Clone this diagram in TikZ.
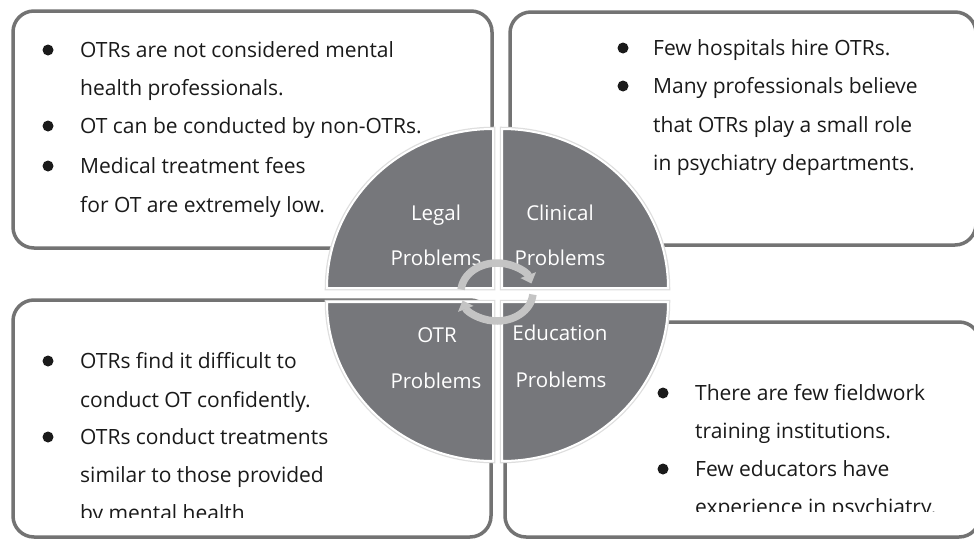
\documentclass[tikz,border=0pt]{standalone}
\usepackage{fontspec}
\setmainfont{Open Sans}
\usetikzlibrary{arrows.meta}
\definecolor{boxline}{HTML}{737373}
\definecolor{quad}{HTML}{76777B}
\definecolor{ring}{HTML}{C4C4C4}
\definecolor{txt}{HTML}{1A1A1A}
\tikzset{
  panel/.style={draw=boxline, line width=3.5pt, rounded corners=21pt},
  item/.style={anchor=base west, inner sep=0pt, font=\fontsize{21}{25}\selectfont, text=txt},
  dot/.style={circle, fill=txt, minimum size=11pt, inner sep=0pt},
  qlabel/.style={anchor=base, inner sep=0pt, font=\fontsize{20.5}{24}\selectfont, text=white},
  sector/.style={fill=quad, draw=white, line width=2pt},
  halo/.style={draw=black!13, line width=4.5pt},
  cyc/.style={draw=ring, line width=7.5pt, -{Triangle[width=16pt,length=9pt]}}
}
\begin{document}
\begin{tikzpicture}[x=1pt,y=-1pt]
\useasboundingbox (0,0) rectangle (974,538);
\fill[white] (0,0) rectangle (974,538);

% four rounded panels
\draw[panel] (13,11) rectangle (492,248);
\draw[panel] (510,12) rectangle (976,245);
\draw[panel] (13,300) rectangle (491,537);
\draw[panel] (505,322) rectangle (980,537);

% legal panel text
\node[dot] (b11) at (48,50) {};
\node[item] (t11) at (80,57) {OTRs are not considered mental};
\node[item] (t12) at (80,95) {health professionals.};
\node[dot] (b12) at (48,126) {};
\node[item] (t13) at (80,133) {OT can be conducted by non-OTRs.};
\node[dot] (b13) at (48,166) {};
\node[item] (t14) at (80,173) {Medical treatment fees};
\node[item] (t15) at (80,212) {for OT are extremely low.};

% clinical panel text
\node[dot] (b21) at (623,48) {};
\node[item] (t21) at (653,55) {Few hospitals hire OTRs.};
\node[dot] (b22) at (623,86) {};
\node[item] (t22) at (653,93) {Many professionals believe};
\node[item] (t23) at (653,132) {that OTRs play a small role};
\node[item] (t24) at (653,170) {in psychiatry departments.};

% OTR panel text (last line runs under the frame)
\begin{scope}
\clip (0,0) rectangle (500,517);
\node[dot] (b31) at (48,361) {};
\node[item] (t31) at (80,368) {OTRs find it difficult to};
\node[item] (t32) at (80,407) {conduct OT confidently.};
\node[dot] (b32) at (48,437) {};
\node[item] (t33) at (80,444) {OTRs conduct treatments};
\node[item] (t34) at (80,482) {similar to those provided};
\node[item] (t35) at (80,520) {by mental health};
\end{scope}

% education panel text
\begin{scope}
\clip (500,0) rectangle (974,511);
\node[dot] (b41) at (663,393) {};
\node[item] (t41) at (695,400) {There are few fieldwork};
\node[item] (t42) at (695,438) {training institutions.};
\node[dot] (b42) at (663,469) {};
\node[item] (t43) at (695,476) {Few educators have};
\node[item] (t44) at (695,514) {experience in psychiatry.};
\end{scope}

% central disc made of four sectors
\path[halo] (493,288) -- (327,288) arc[start angle=180, end angle=270, x radius=166, y radius=159] -- cycle;
\path[halo] (502,288) -- (502,129) arc[start angle=270, end angle=360, x radius=166, y radius=159] -- cycle;
\path[halo] (493,302) -- (327,302) arc[start angle=180, end angle=90, x radius=166, y radius=159] -- cycle;
\path[halo] (502,302) -- (668,302) arc[start angle=0, end angle=90, x radius=166, y radius=159] -- cycle;
\path[sector] (493,288) -- (327,288) arc[start angle=180, end angle=270, x radius=166, y radius=159] -- cycle;
\path[sector] (502,288) -- (502,129) arc[start angle=270, end angle=360, x radius=166, y radius=159] -- cycle;
\path[sector] (493,302) -- (327,302) arc[start angle=180, end angle=90, x radius=166, y radius=159] -- cycle;
\path[sector] (502,302) -- (668,302) arc[start angle=0, end angle=90, x radius=166, y radius=159] -- cycle;

% sector labels
\node[qlabel] (q1a) at (436,220) {Legal};
\node[qlabel] (q1b) at (436,265) {Problems};
\node[qlabel] (q2a) at (560,220) {Clinical};
\node[qlabel] (q2b) at (560,265) {Problems};
\node[qlabel] (q3a) at (437,342) {OTR};
\node[qlabel] (q3b) at (436,388) {Problems};
\node[qlabel] (q4a) at (560,340) {Education};
\node[qlabel] (q4b) at (561,387) {Problems};

% cycle arrows in the middle
\coordinate (hub) at (497,292);
\draw[cyc] (hub) ++(185:36 and 29) arc[start angle=185, end angle=343, x radius=36, y radius=29];
\draw[cyc] (hub) ++(5:36 and 29) arc[start angle=5, end angle=163, x radius=36, y radius=29];
\end{tikzpicture}
\end{document}
